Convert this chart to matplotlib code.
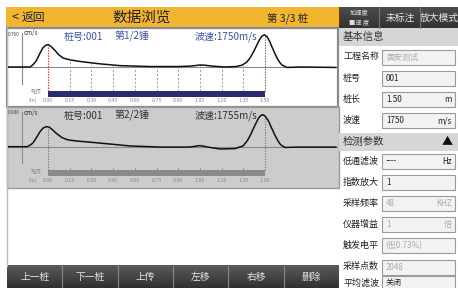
import numpy as np
import matplotlib
matplotlib.use("Agg")
import matplotlib.pyplot as plt
from matplotlib.patches import Rectangle

plt.rcParams['font.family'] = ['Noto Sans CJK SC', 'DejaVu Sans']

W, H = 458, 288

# depth axis (m)
depth_ticks = [0.00, 0.15, 0.30, 0.45, 0.60, 0.75, 0.90, 1.05, 1.20, 1.35, 1.50]
pile_len = 1.50

# hammer 1/2, velocity (cm/s) vs depth (m)
d1 = [-0.276, -0.124, -0.104, -0.083, -0.069, -0.052, -0.035, -0.014, 0.003, 0.021,
      0.048, 0.076, 0.104, 0.152, 0.207, 0.256, 0.36, 0.50, 0.705, 0.91, 0.98, 1.016,
      1.05, 1.085, 1.134, 1.22, 1.30, 1.34, 1.375, 1.40, 1.424, 1.445, 1.462, 1.479,
      1.496, 1.514, 1.531, 1.548, 1.566, 1.583, 1.60, 1.617, 1.652, 1.74, 1.99]
a1 = [0.0, 0.0, 0.05, 0.13, 0.22, 0.33, 0.43, 0.49, 0.50, 0.46,
      0.37, 0.27, 0.20, 0.16, 0.13, 0.11, 0.07, 0.03, 0.01, 0.01, 0.02, 0.03,
      0.045, 0.04, 0.02, 0.0, 0.01, 0.04, 0.11, 0.22, 0.36, 0.50, 0.61, 0.69,
      0.72, 0.68, 0.58, 0.45, 0.32, 0.20, 0.11, 0.045, -0.01, 0.0, -0.01]

# hammer 2/2
d2 = [-0.276, -0.145, -0.124, -0.104, -0.083, -0.055, -0.035, -0.014, 0.007, 0.028,
      0.055, 0.097, 0.138, 0.20, 0.29, 0.43, 0.567, 0.774, 0.98, 1.05, 1.12, 1.19,
      1.293, 1.348, 1.376, 1.39, 1.403, 1.417, 1.431, 1.445, 1.458, 1.469, 1.479,
      1.49, 1.50, 1.514, 1.528, 1.541, 1.555, 1.569, 1.583, 1.597, 1.61, 1.638, 1.742, 1.99]
a2 = [0.0, 0.0, 0.04, 0.10, 0.22, 0.40, 0.49, 0.53, 0.52, 0.46,
      0.36, 0.24, 0.18, 0.15, 0.12, 0.07, 0.02, -0.01, -0.01, 0.03, -0.02, -0.06,
      -0.05, 0.02, 0.15, 0.24, 0.34, 0.46, 0.57, 0.68, 0.77, 0.82, 0.84,
      0.84, 0.81, 0.74, 0.65, 0.53, 0.42, 0.30, 0.20, 0.11, 0.045, -0.02, -0.01, -0.01]

top_tabs = ["未标注", "放大模式"]
buttons = ["上一桩", "下一桩", "上传", "左移", "右移", "删除"]
basic_labels = ["工程名称", "桩号", "桩长", "波速"]
basic_values = ["固安测试", "001", "1.50", "1750"]
basic_units = ["", "", "m", "m/s"]
basic_grey = [True, False, False, False]
param_labels = ["低通滤波", "指数放大", "采样频率", "仪器增益", "触发电平", "采样点数", "平均滤波"]
param_values = ["----", "1", "48", "1", "低(0.73%)", "2048", "关闭"]
param_units = ["Hz", "", "KHZ", "倍", "", "", ""]
param_grey = [False, False, True, True, True, True, False]

fig = plt.figure(figsize=(W / 100, H / 100), dpi=100)
fig.patch.set_facecolor("white")
ui = fig.add_axes([0, 0, 1, 1])
ui.set_xlim(0, W)
ui.set_ylim(H, 0)
ui.axis("off")


def rect(x0, y0, x1, y1, fc, ec="none", lw=0, z=1):
    ui.add_patch(Rectangle((x0, y0), x1 - x0, y1 - y0, fc=fc, ec=ec, lw=lw, zorder=z))


def gradient(x0, y0, x1, y1, c_top, c_bot, z=1):
    g = np.linspace(0, 1, 32)[:, None, None]
    img = np.array(c_top)[None, None, :] * (1 - g) + np.array(c_bot)[None, None, :] * g
    ui.imshow(img, extent=[x0, x1, y1, y0], aspect="auto", zorder=z, interpolation="bilinear")


# ---- header
rect(6, 7, 339, 28, "#f1b530")
ui.text(11, 17.5, "<", fontsize=9, va="center", color="#222")
ui.text(22, 17.5, "返回", fontsize=8.5, va="center", color="#222")
ui.text(142, 17.5, "数据浏览", fontsize=10.5, va="center", ha="center", color="#222")
ui.text(308, 18, "第 3/3 桩", fontsize=7.5, va="center", ha="right", color="#222")

gradient(339, 7, 458, 28, (0.30, 0.30, 0.30), (0.20, 0.20, 0.20))
ui.text(359, 12, "加速度", fontsize=4.5, ha="center", va="center", color="#ddd")
ui.text(359, 22, "■速 度", fontsize=4.5, ha="center", va="center", color="#ddd")
for i, lab in enumerate(top_tabs):
    cx = 400 + i * 39
    ui.text(cx, 17.5, lab, fontsize=7, ha="center", va="center", color="#e8e8e8")
for x in (379, 420):
    ui.plot([x, x], [7, 28], color="#777", lw=0.8, zorder=3)

# ---- left frame
ui.plot([6.5, 6.5], [28, 266], color="#bbb", lw=1, zorder=2)
rect(7, 28, 338, 107, "white", ec="#8a8a8a", lw=1.6, z=1)
rect(7, 107, 339, 188, "#cccccc", ec="#9a9a9a", lw=1, z=1)

# ---- bottom buttons
gradient(7, 265, 339, 288, (0.36, 0.36, 0.36), (0.19, 0.19, 0.19))
bw = (339 - 7) / len(buttons)
for i, lab in enumerate(buttons):
    ui.text(7 + bw * (i + 0.5), 277, lab, fontsize=7, ha="center", va="center", color="#e6e6e6")
    if i:
        ui.plot([7 + bw * i] * 2, [265, 288], color="#888", lw=0.8, zorder=3)

# ---- right panel
rect(339, 28, 458, 46, "#d6d6d6")
ui.text(343, 37, "基本信息", fontsize=7.5, va="center", color="#333")
rect(339, 133, 458, 151, "#d6d6d6")
ui.text(343, 142, "检测参数", fontsize=7.5, va="center", color="#333")
ui.text(447, 142, "▲", fontsize=8, va="center", ha="center", color="#111")


def field(y, lab, val, unit, grey):
    ui.text(343, y, lab, fontsize=6.5, va="center", color="#222")
    rect(382, y - 7.5, 455, y + 7.5, "#f2f2f2", ec="#9a9a9a", lw=0.8, z=2)
    ui.text(386, y, val, fontsize=5.8, va="center", color="#aaa" if grey else "#222", zorder=3)
    if unit:
        ui.text(452, y, unit, fontsize=5.8, va="center", ha="right",
                color="#aaa" if grey else "#222", zorder=3)


for i in range(len(basic_labels)):
    field(57 + i * 21.2, basic_labels[i], basic_values[i], basic_units[i], basic_grey[i])
for i in range(len(param_labels)):
    # last row sits at the screen edge; keep its text inside the frame
    field(min(161 + i * 21.2, 283), param_labels[i], param_values[i], param_units[i], param_grey[i])


# ---- waveform panels
def wave_panel(box, base_y, scale, d, a, title, color, bar_color, mark_color, grid, amp_max):
    x0, y0, x1, y1 = box
    ax = fig.add_axes([x0 / W, 1 - y1 / H, (x1 - x0) / W, (y1 - y0) / H])
    ax.patch.set_alpha(0)
    ax.axis("off")
    px_per_m = (265 - 48) / pile_len
    ax.set_xlim((x0 - 48) / px_per_m, (x1 - 48) / px_per_m)
    ax.set_ylim((base_y - y1) / scale, (base_y - y0) / scale)

    def yy(py):
        return (base_y - py) / scale

    def xx(px):
        return (px - 48) / px_per_m

    ax.axhline(0, color="#8a8a8a", lw=0.8)
    ax.plot([xx(22), xx(22)], [yy(y0 + 4), yy(y0 + 55)], color="#8a8a8a", lw=0.8)
    ax.plot(d, a, color="#111", lw=1.1, zorder=4)

    bar_top, bar_bot = yy(base_y + 23.5), yy(base_y + 29.5)
    ax.fill_between([0, pile_len], bar_bot, bar_top, color=bar_color, lw=0, zorder=3)
    for t in depth_ticks:
        y_curve = np.interp(t, d, a)
        if t in (0.0, pile_len):
            ax.plot([t, t], [bar_top, y_curve], color=mark_color, lw=0.8, ls=(0, (1.2, 1.2)), zorder=3)
        elif grid:
            ax.plot([t, t], [bar_top, y_curve], color="#9a9a9a", lw=0.7, ls=(0, (2, 2)), zorder=2)
        else:
            ax.plot([t, t], [bar_top, yy(base_y + 21.5)], color="#8a8a8a", lw=0.6, zorder=2)
        ax.text(t, yy(base_y + 33.5), f"{t:.2f}", fontsize=3.8, ha="center", va="center", color="#888")
    ax.text(xx(33), yy(base_y + 33.5), "(m)", fontsize=3.8, ha="center", va="center", color="#888")
    ax.text(xx(36), yy(base_y + 24), "桩顶", fontsize=3.8, ha="center", va="center", color="#888")

    ax.text(xx(8), yy(y0 + 5), f"{amp_max:.3f}", fontsize=3.4, va="center", color="#444")
    ax.text(xx(24), yy(y0 + 4.5), "cm/s", fontsize=4.5, va="center", color="#333")
    for lab, px in zip(title, (64, 115, 195)):
        ax.text(xx(px), yy(y0 + 7.5), lab, fontsize=7.2, va="center", color=color)
    return ax


wave_panel((8, 29, 337, 106), 67, 44.7, d1, a1, ["桩号:001", "第1/2锤", "波速:1750m/s"],
           "#3a54a6", "#2a2c6e", "#d03030", True, 0.760)
wave_panel((8, 108, 338, 187), 146.7, 37.8, d2, a2, ["桩号:001", "第2/2锤", "波速:1755m/s"],
           "#333333", "#8a8a8a", "#7a7a7a", False, 0.900)

fig.savefig("out.png", dpi=100)
